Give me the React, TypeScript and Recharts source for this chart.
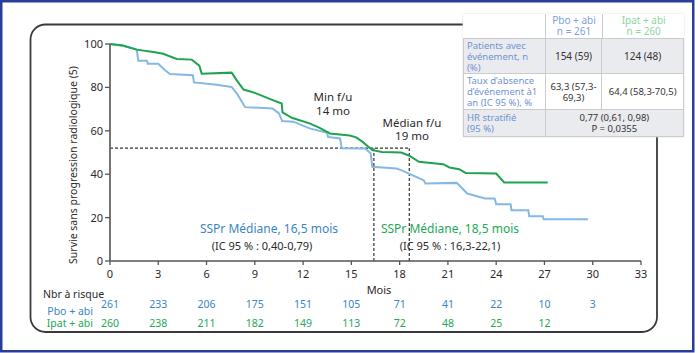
import React from 'react';
import { LineChart, Line, XAxis, YAxis, ReferenceLine } from 'recharts';

const FONT = '"Noto Sans", "Open Sans", sans-serif';
const BLUE_LINE = '#84b8e6';
const GREEN_LINE = '#1ea34e';
const BLUE_TEXT = '#3a85c5';
const GREEN_TEXT = '#22a957';
const DARK = '#2a2a2a';

const xTicks = [0, 3, 6, 9, 12, 15, 18, 21, 24, 27, 30, 33];
const yTicks = [0, 20, 40, 60, 80, 100];
const pboRisk = [261, 233, 206, 175, 151, 105, 71, 41, 22, 10, 3];
const ipatRisk = [260, 238, 211, 182, 149, 113, 72, 48, 25, 12];

const pboTime = [0, 0.8, 1.66, 1.76, 2.3, 2.35, 3.0, 3.4, 3.73, 5.15, 5.22, 6.5, 7.56, 7.9, 8.4, 10.1, 10.5, 10.7, 11.4, 12.4, 13.5, 13.55, 14.3, 14.4, 15.85, 16.2, 16.3, 17.8, 18.1, 19.5, 19.6, 21.55, 22.2, 23.3, 23.9, 24.0, 24.9, 24.95, 26.0, 26.05, 26.9, 26.95, 29.7];
const pboSurv = [100, 99.2, 97.4, 92.3, 92.3, 90.9, 90.9, 88, 86.2, 85.6, 82.3, 81.3, 80.2, 77, 70.9, 70.3, 68, 64.5, 64.2, 61.1, 59.1, 57.2, 56.5, 52, 51.9, 49.6, 43.4, 42.6, 41.9, 37.2, 35.7, 36.0, 31.1, 28.8, 28.8, 26.2, 26.2, 23.4, 23.4, 20.6, 20.6, 19.2, 19.2];

const ipatTime = [0, 0.8, 1.66, 2.8, 3.3, 4.15, 5.08, 5.55, 5.7, 7.56, 7.9, 8.3, 9.0, 10.0, 10.67, 10.72, 11.3, 12.4, 13.0, 13.67, 14.9, 15.3, 15.7, 16.0, 16.3, 16.9, 18.1, 18.6, 19.2, 20.7, 21.1, 21.7, 22.1, 24.0, 24.5, 27.2];
const ipatSurv = [100, 99.3, 97.4, 96.2, 95.5, 93.1, 92.8, 90, 86.3, 86.8, 83, 79, 77.5, 74.5, 72.6, 68.5, 66, 63.4, 61.5, 58.8, 57.8, 57, 54.9, 53, 51.1, 50.2, 50.0, 48.5, 45.7, 44.6, 43.1, 42.3, 40.6, 40.3, 36.2, 36.2];

const medianLevel = 52;
const pboMedian = 16.4;
const ipatMedian = 18.6;

const pboData = pboTime.map((t, i) => ({ t, v: pboSurv[i] }));
const ipatData = ipatTime.map((t, i) => ({ t, v: ipatSurv[i] }));

const XTick = (props: any) => {
  const { x, payload } = props;
  const i = xTicks.indexOf(payload.value);
  return (
    <g fontFamily={FONT} fontSize={11}>
      <text x={x} y={273.5} textAnchor="middle" dominantBaseline="central" fill={DARK}>{payload.value}</text>
      {pboRisk[i] !== undefined && (
        <text x={x} y={304} textAnchor="middle" dominantBaseline="central" fill={BLUE_TEXT} fontSize={10.5}>{pboRisk[i]}</text>
      )}
      {ipatRisk[i] !== undefined && (
        <text x={x} y={323} textAnchor="middle" dominantBaseline="central" fill={GREEN_TEXT} fontSize={10.5}>{ipatRisk[i]}</text>
      )}
    </g>
  );
};

const cellBorder = '1px solid #c9cbd0';
const labelStyle: React.CSSProperties = { color: '#6f93d3', textAlign: 'left', padding: '0 3px', borderRight: cellBorder, display: 'flex', alignItems: 'center', whiteSpace: 'nowrap' };
const valStyle: React.CSSProperties = { color: '#333', textAlign: 'center', display: 'flex', alignItems: 'center', justifyContent: 'center', whiteSpace: 'nowrap' };

export default function App() {
  return (
    <div style={{ position: 'absolute', left: 0, top: 0, width: 700, height: 353, background: '#fff', overflow: 'hidden' }}>
      <LineChart width={700} height={353} margin={{ top: 44, right: 59, bottom: 0, left: 0 }}>
        <XAxis
          type="number"
          dataKey="t"
          domain={[0, 33]}
          ticks={xTicks}
          height={92}
          tickSize={4}
          tick={<XTick />}
          axisLine={{ stroke: '#555', strokeWidth: 1.6 }}
          tickLine={{ stroke: '#555', strokeWidth: 1.3 }}
          allowDataOverflow
        />
        <YAxis
          type="number"
          domain={[0, 100]}
          ticks={yTicks}
          width={110}
          tickSize={5}
          tickMargin={2}
          axisLine={{ stroke: '#666', strokeWidth: 1.8 }}
          tickLine={{ stroke: '#555', strokeWidth: 1.3 }}
          tick={{ fill: DARK, fontSize: 11, fontFamily: FONT }}
        />
        <ReferenceLine segment={[{ x: 0, y: medianLevel }, { x: ipatMedian, y: medianLevel }]} stroke="#333" strokeWidth={1.2} strokeDasharray="3 2" />
        <ReferenceLine segment={[{ x: pboMedian, y: 0 }, { x: pboMedian, y: medianLevel }]} stroke="#333" strokeWidth={1.2} strokeDasharray="3 2" />
        <ReferenceLine segment={[{ x: ipatMedian, y: 0 }, { x: ipatMedian, y: medianLevel }]} stroke="#333" strokeWidth={1.2} strokeDasharray="3 2" />
        <Line data={pboData} dataKey="v" type="linear" stroke={BLUE_LINE} strokeWidth={2} dot={false} activeDot={false} isAnimationActive={false} />
        <Line data={ipatData} dataKey="v" type="linear" stroke={GREEN_LINE} strokeWidth={2} dot={false} activeDot={false} isAnimationActive={false} />
      </LineChart>

      <svg width={700} height={353} style={{ position: 'absolute', left: 0, top: 0, pointerEvents: 'none' }} fontFamily={FONT}>
        <rect x={1.25} y={1.25} width={692} height={350} fill="none" stroke="#2c3d98" strokeWidth={2.5} />
        <rect x={30.5} y={24.5} width={626.5} height={307.5} rx={15} ry={15} fill="none" stroke="#3a3a3a" strokeWidth={1.8} />
        <text x={73} y={165} transform="rotate(-90, 73, 165)" textAnchor="middle" dominantBaseline="central" fontSize={10.5} fill={DARK}>Survie sans progression radiologique (5)</text>
        <text x={333} y={96} textAnchor="middle" dominantBaseline="central" fontSize={11.5} fill={DARK}>Min f/u</text>
        <text x={333} y={110} textAnchor="middle" dominantBaseline="central" fontSize={11.5} fill={DARK}>14 mo</text>
        <text x={412} y={122} textAnchor="middle" dominantBaseline="central" fontSize={11.5} fill={DARK}>Médian f/u</text>
        <text x={412} y={135} textAnchor="middle" dominantBaseline="central" fontSize={11.5} fill={DARK}>19 mo</text>
        <text x={269} y={228} textAnchor="middle" dominantBaseline="central" fontSize={12} fill={BLUE_TEXT}>SSPr Médiane, 16,5 mois</text>
        <text x={262} y={245} textAnchor="middle" dominantBaseline="central" fontSize={11} fill={DARK}>(IC 95 % : 0,40-0,79)</text>
        <text x={450} y={228} textAnchor="middle" dominantBaseline="central" fontSize={12} fill={GREEN_TEXT}>SSPr Médiane, 18,5 mois</text>
        <text x={450} y={245} textAnchor="middle" dominantBaseline="central" fontSize={11} fill={DARK}>(IC 95 % : 16,3-22,1)</text>
        <text x={379} y={289} textAnchor="middle" dominantBaseline="central" fontSize={11} fill={DARK}>Mois</text>
        <text x={43} y={294} textAnchor="start" dominantBaseline="central" fontSize={10.5} fill={DARK}>Nbr à risque</text>
        <text x={93} y={311} textAnchor="end" dominantBaseline="central" fontSize={10.5} fill={BLUE_TEXT}>Pbo + abi</text>
        <text x={93} y={323} textAnchor="end" dominantBaseline="central" fontSize={10.5} fill={GREEN_TEXT}>Ipat + abi</text>
      </svg>

      <div style={{ position: 'absolute', left: 463, top: 14, width: 221, fontFamily: FONT, fontSize: 9.5, lineHeight: '11px', background: '#fff', boxShadow: '0 0 2px #ddd' }}>
        <div style={{ display: 'flex', height: 24, fontSize: 10 }}>
          <div style={{ width: 82, borderRight: cellBorder }} />
          <div style={{ width: 57, borderRight: cellBorder, textAlign: 'center', color: '#7d9fdf', paddingTop: 1 }}>Pbo + abi<br />n = 261</div>
          <div style={{ width: 81, textAlign: 'center', color: '#8ed39f', paddingTop: 1 }}>Ipat + abi<br />n = 260</div>
        </div>
        <div style={{ display: 'flex', height: 34, background: '#e9ebef', border: cellBorder, borderBottom: 'none' }}>
          <div style={{ ...labelStyle, width: 75 }}>Patients avec<br />événement, n<br />(%)</div>
          <div style={{ ...valStyle, width: 56, borderRight: cellBorder, fontSize: 10 }}>154 (59)</div>
          <div style={{ ...valStyle, width: 81, fontSize: 10 }}>124 (48)</div>
        </div>
        <div style={{ display: 'flex', height: 35, background: '#fff', border: cellBorder, borderBottom: 'none' }}>
          <div style={{ ...labelStyle, width: 75 }}>Taux d’absence<br />d’événement à1<br />an (IC 95 %), %</div>
          <div style={{ ...valStyle, width: 56, borderRight: cellBorder }}>63,3 (57,3-<br />69,3)</div>
          <div style={{ ...valStyle, width: 81 }}>64,4 (58,3-70,5)</div>
        </div>
        <div style={{ display: 'flex', height: 26, background: '#e9ebef', border: cellBorder }}>
          <div style={{ ...labelStyle, width: 75 }}>HR stratifié<br />(95 %)</div>
          <div style={{ ...valStyle, width: 138 }}>0,77 (0,61, 0,98)<br />P = 0,0355</div>
        </div>
      </div>
    </div>
  );
}
